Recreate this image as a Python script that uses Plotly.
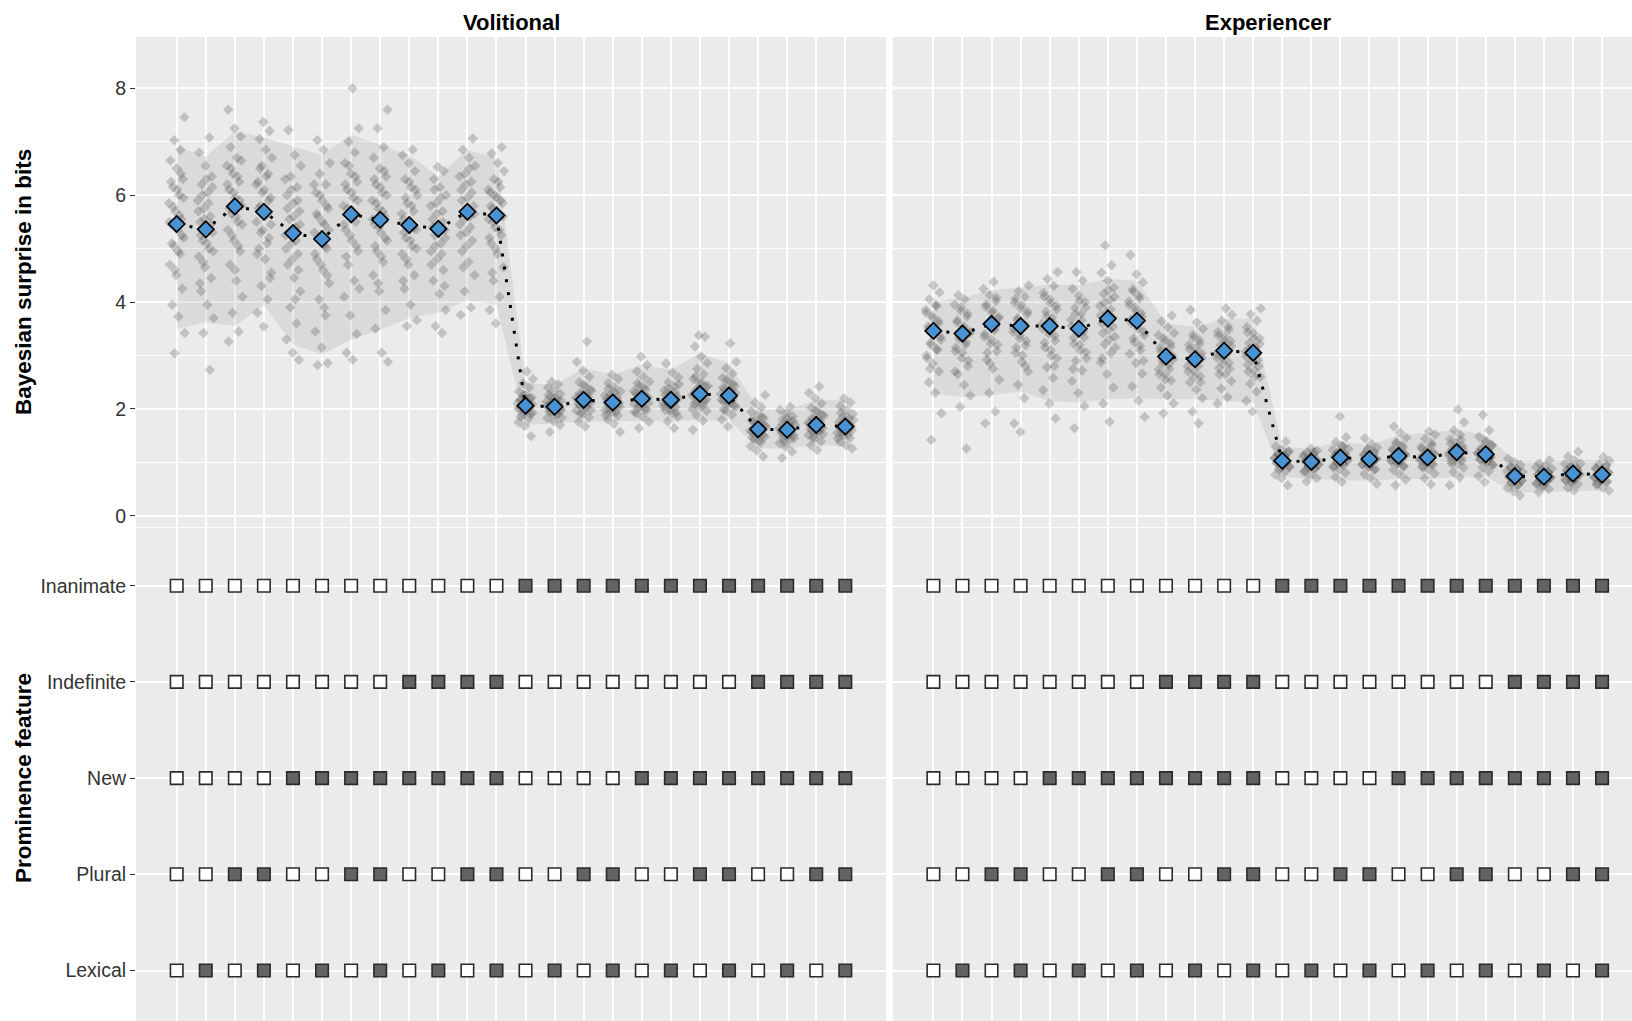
import plotly.graph_objects as go

# ---------------------------------------------------------------- data
conditions = list(range(1, 25))
feature_names = ["Lexical", "Plural", "New", "Indefinite", "Inanimate"]

# prominence feature design per condition (1 = feature present)
lexical    = [0, 1, 0, 1, 0, 1, 0, 1, 0, 1, 0, 1, 0, 1, 0, 1, 0, 1, 0, 1, 0, 1, 0, 1]
plural     = [0, 0, 1, 1, 0, 0, 1, 1, 0, 0, 1, 1, 0, 0, 1, 1, 0, 0, 1, 1, 0, 0, 1, 1]
new        = [0, 0, 0, 0, 1, 1, 1, 1, 1, 1, 1, 1, 0, 0, 0, 0, 1, 1, 1, 1, 1, 1, 1, 1]
indefinite = [0, 0, 0, 0, 0, 0, 0, 0, 1, 1, 1, 1, 0, 0, 0, 0, 0, 0, 0, 0, 1, 1, 1, 1]
inanimate  = [0, 0, 0, 0, 0, 0, 0, 0, 0, 0, 0, 0, 1, 1, 1, 1, 1, 1, 1, 1, 1, 1, 1, 1]

# mean Bayesian surprise per condition
vol_mean = [5.46, 5.36, 5.79, 5.69, 5.29, 5.18, 5.64, 5.54, 5.44, 5.37, 5.69, 5.62,
            2.06, 2.04, 2.17, 2.12, 2.19, 2.17, 2.28, 2.25, 1.62, 1.61, 1.70, 1.67]
exp_mean = [3.46, 3.41, 3.59, 3.55, 3.55, 3.50, 3.69, 3.65, 2.98, 2.93, 3.09, 3.05,
            1.03, 1.01, 1.09, 1.06, 1.12, 1.09, 1.19, 1.15, 0.74, 0.73, 0.79, 0.77]

# interval band around the means
vol_lower = [3.50, 3.62, 3.55, 3.95, 3.20, 3.02, 3.30, 3.48, 3.70, 3.80, 4.03, 3.95,
             1.70, 1.73, 1.76, 1.76, 1.78, 1.78, 1.79, 1.79, 1.26, 1.26, 1.33, 1.29]
vol_upper = [6.91, 6.72, 7.19, 7.08, 6.91, 6.75, 7.13, 6.94, 6.75, 6.35, 6.85, 6.70,
             2.48, 2.45, 2.76, 2.64, 2.82, 2.73, 3.04, 2.85, 2.01, 1.98, 2.17, 2.17]
exp_lower = [2.30, 2.22, 2.26, 2.32, 2.15, 2.12, 2.18, 2.20, 2.18, 2.18, 2.15, 2.12,
             0.73, 0.69, 0.66, 0.66, 0.69, 0.69, 0.73, 0.73, 0.44, 0.44, 0.47, 0.47]
exp_upper = [4.00, 4.08, 4.22, 4.28, 4.33, 4.32, 4.43, 4.40, 3.60, 3.54, 3.68, 3.69,
             1.29, 1.26, 1.39, 1.32, 1.51, 1.55, 1.61, 1.51, 1.04, 1.01, 1.04, 1.04]

# individual observations per condition: full spread ...
vol_obs = [
    [3.04, 3.42, 3.73, 3.95, 4.25, 4.5, 4.7, 4.9, 5.05, 5.2, 5.35, 5.45, 5.55, 5.7, 5.85, 6.0, 6.15, 6.3, 6.5, 6.65, 6.85, 7.03, 7.46],
    [2.73, 3.42, 3.7, 3.95, 4.2, 4.45, 4.65, 4.85, 5.0, 5.15, 5.3, 5.4, 5.5, 5.6, 5.75, 5.9, 6.05, 6.2, 6.35, 6.55, 6.8, 7.08],
    [3.26, 3.45, 3.8, 4.1, 4.4, 4.7, 4.95, 5.15, 5.35, 5.5, 5.65, 5.8, 5.95, 6.1, 6.25, 6.4, 6.55, 6.7, 6.9, 7.1, 7.25, 7.6],
    [3.54, 3.8, 4.05, 4.3, 4.55, 4.8, 5.0, 5.2, 5.35, 5.5, 5.65, 5.8, 5.95, 6.1, 6.25, 6.4, 6.55, 6.7, 6.85, 7.05, 7.2, 7.37],
    [2.92, 3.05, 3.3, 3.6, 3.9, 4.2, 4.45, 4.7, 4.9, 5.1, 5.25, 5.4, 5.55, 5.7, 5.85, 6.0, 6.15, 6.35, 6.55, 6.75, 7.22],
    [2.82, 2.86, 3.15, 3.45, 3.75, 4.05, 4.35, 4.6, 4.8, 5.0, 5.15, 5.3, 5.45, 5.6, 5.75, 5.9, 6.05, 6.2, 6.4, 6.6, 6.85, 7.03],
    [2.92, 3.05, 3.4, 3.75, 4.1, 4.4, 4.7, 4.95, 5.15, 5.35, 5.5, 5.65, 5.8, 5.95, 6.1, 6.25, 6.4, 6.6, 6.8, 7.0, 7.25, 8.0],
    [2.88, 3.05, 3.5, 3.85, 4.2, 4.5, 4.75, 4.95, 5.15, 5.3, 5.45, 5.6, 5.75, 5.9, 6.05, 6.2, 6.35, 6.5, 6.7, 6.9, 7.25, 7.6],
    [3.55, 3.66, 3.95, 4.25, 4.5, 4.7, 4.9, 5.05, 5.2, 5.35, 5.45, 5.55, 5.7, 5.85, 6.0, 6.15, 6.3, 6.45, 6.6, 6.75, 6.85],
    [3.42, 3.55, 3.85, 4.15, 4.4, 4.6, 4.8, 4.95, 5.1, 5.25, 5.35, 5.45, 5.55, 5.7, 5.85, 6.0, 6.15, 6.3, 6.45, 6.53],
    [3.76, 3.9, 4.2, 4.5, 4.75, 4.95, 5.15, 5.3, 5.45, 5.6, 5.7, 5.8, 5.95, 6.1, 6.25, 6.4, 6.55, 6.7, 6.85, 7.06],
    [3.6, 3.85, 4.1, 4.4, 4.65, 4.9, 5.1, 5.25, 5.4, 5.55, 5.65, 5.75, 5.85, 5.95, 6.05, 6.15, 6.3, 6.45, 6.6, 6.78, 6.9],
    [1.49, 1.68, 1.75, 1.82, 1.88, 1.93, 1.97, 2.01, 2.04, 2.07, 2.1, 2.13, 2.17, 2.21, 2.26, 2.32, 2.4, 2.48, 2.56, 2.7],
    [1.57, 1.7, 1.77, 1.83, 1.89, 1.94, 1.98, 2.01, 2.04, 2.07, 2.1, 2.14, 2.18, 2.23, 2.28, 2.34, 2.4, 2.46, 2.51],
    [1.67, 1.76, 1.84, 1.91, 1.97, 2.02, 2.07, 2.11, 2.15, 2.19, 2.23, 2.28, 2.34, 2.41, 2.5, 2.6, 2.72, 2.88, 3.26],
    [1.57, 1.72, 1.8, 1.87, 1.93, 1.98, 2.03, 2.07, 2.11, 2.14, 2.18, 2.22, 2.27, 2.33, 2.4, 2.48, 2.56, 2.64],
    [1.64, 1.76, 1.85, 1.92, 1.98, 2.04, 2.09, 2.13, 2.17, 2.21, 2.25, 2.3, 2.36, 2.43, 2.51, 2.6, 2.7, 2.82, 2.98],
    [1.64, 1.77, 1.85, 1.92, 1.98, 2.03, 2.08, 2.12, 2.16, 2.2, 2.24, 2.29, 2.35, 2.42, 2.5, 2.59, 2.68, 2.85],
    [1.61, 1.78, 1.88, 1.96, 2.03, 2.09, 2.15, 2.2, 2.25, 2.3, 2.35, 2.41, 2.48, 2.56, 2.65, 2.75, 2.86, 2.98, 3.17, 3.35, 3.38],
    [1.67, 1.8, 1.89, 1.97, 2.04, 2.1, 2.15, 2.2, 2.24, 2.28, 2.32, 2.37, 2.43, 2.5, 2.58, 2.66, 2.76, 2.88, 3.23],
    [1.11, 1.22, 1.3, 1.37, 1.43, 1.48, 1.52, 1.56, 1.6, 1.63, 1.67, 1.71, 1.76, 1.82, 1.88, 1.95, 2.03, 2.12, 2.26],
    [1.08, 1.2, 1.29, 1.36, 1.42, 1.47, 1.51, 1.55, 1.59, 1.62, 1.66, 1.7, 1.75, 1.8, 1.86, 1.92, 1.98, 2.04],
    [1.23, 1.32, 1.39, 1.45, 1.51, 1.56, 1.6, 1.64, 1.68, 1.72, 1.76, 1.81, 1.87, 1.94, 2.02, 2.1, 2.2, 2.3, 2.42],
    [1.26, 1.32, 1.39, 1.45, 1.5, 1.55, 1.59, 1.63, 1.67, 1.71, 1.75, 1.8, 1.85, 1.91, 1.98, 2.05, 2.12, 2.2],
]
# ... and the denser bulk of each condition
vol_obs_core = [
    [4.95, 5.1, 5.25, 5.4, 5.5, 5.62, 5.78, 5.95, 6.1, 6.25, 6.4, 4.6],
    [4.75, 4.95, 5.1, 5.25, 5.45, 5.55, 5.7, 5.85, 6.0, 6.15, 6.3, 4.35],
    [5.05, 5.25, 5.45, 5.6, 5.75, 5.9, 6.05, 6.2, 6.35, 6.5, 6.65, 4.6],
    [4.9, 5.1, 5.3, 5.45, 5.6, 5.75, 5.9, 6.05, 6.2, 6.35, 6.5, 4.45],
    [4.6, 4.8, 5.0, 5.15, 5.3, 5.45, 5.6, 5.75, 5.9, 6.1, 6.3, 4.05],
    [4.5, 4.7, 4.9, 5.05, 5.2, 5.35, 5.5, 5.65, 5.8, 6.0, 6.2, 3.9],
    [4.85, 5.05, 5.25, 5.45, 5.6, 5.75, 5.9, 6.05, 6.2, 6.35, 6.55, 4.25],
    [4.85, 5.05, 5.2, 5.4, 5.55, 5.7, 5.85, 6.0, 6.15, 6.3, 6.45, 4.35],
    [4.8, 5.0, 5.15, 5.3, 5.4, 5.5, 5.65, 5.8, 5.95, 6.1, 6.25, 4.4],
    [4.7, 4.9, 5.05, 5.2, 5.3, 5.4, 5.5, 5.65, 5.8, 5.95, 6.1, 4.3],
    [5.05, 5.25, 5.4, 5.55, 5.65, 5.75, 5.9, 6.05, 6.2, 6.35, 6.5, 4.65],
    [5.0, 5.2, 5.35, 5.5, 5.6, 5.7, 5.8, 5.9, 6.0, 6.1, 6.25, 4.55],
    [1.85, 1.9, 1.95, 2.0, 2.03, 2.06, 2.09, 2.12, 2.16, 2.2, 2.25],
    [1.84, 1.9, 1.95, 1.99, 2.02, 2.05, 2.08, 2.11, 2.15, 2.2, 2.26],
    [1.92, 1.98, 2.04, 2.09, 2.13, 2.17, 2.21, 2.25, 2.3, 2.36, 2.45],
    [1.88, 1.94, 1.99, 2.04, 2.08, 2.12, 2.16, 2.2, 2.25, 2.31, 2.38],
    [1.94, 2.0, 2.06, 2.11, 2.15, 2.19, 2.23, 2.28, 2.33, 2.4, 2.48],
    [1.93, 1.99, 2.05, 2.1, 2.14, 2.18, 2.22, 2.26, 2.31, 2.38, 2.46],
    [2.0, 2.07, 2.13, 2.18, 2.23, 2.27, 2.32, 2.37, 2.43, 2.5, 2.6],
    [1.99, 2.06, 2.12, 2.17, 2.21, 2.25, 2.3, 2.35, 2.4, 2.47, 2.55],
    [1.4, 1.46, 1.51, 1.55, 1.59, 1.62, 1.65, 1.69, 1.73, 1.78, 1.85],
    [1.39, 1.45, 1.5, 1.54, 1.58, 1.61, 1.64, 1.68, 1.72, 1.77, 1.83],
    [1.47, 1.53, 1.58, 1.62, 1.66, 1.7, 1.74, 1.78, 1.83, 1.89, 1.97],
    [1.45, 1.51, 1.56, 1.6, 1.64, 1.67, 1.7, 1.74, 1.79, 1.85, 1.93],
]
exp_obs = [
    [1.42, 1.92, 2.3, 2.5, 2.7, 2.85, 3.0, 3.12, 3.24, 3.35, 3.45, 3.55, 3.65, 3.75, 3.85, 3.95, 4.05, 4.18, 4.31],
    [1.26, 2.04, 2.25, 2.45, 2.65, 2.8, 2.95, 3.08, 3.2, 3.31, 3.41, 3.51, 3.62, 3.73, 3.84, 3.95, 4.05, 4.13],
    [1.73, 1.95, 2.3, 2.55, 2.75, 2.92, 3.08, 3.22, 3.35, 3.47, 3.58, 3.69, 3.8, 3.91, 4.02, 4.13, 4.25, 4.38],
    [1.57, 1.73, 2.2, 2.45, 2.7, 2.88, 3.05, 3.19, 3.32, 3.44, 3.55, 3.66, 3.77, 3.88, 3.99, 4.1, 4.2, 4.31],
    [1.82, 2.1, 2.35, 2.58, 2.78, 2.95, 3.1, 3.24, 3.37, 3.49, 3.6, 3.71, 3.82, 3.93, 4.05, 4.17, 4.3, 4.43, 4.56],
    [1.64, 2.05, 2.3, 2.52, 2.72, 2.9, 3.06, 3.2, 3.33, 3.45, 3.56, 3.67, 3.78, 3.89, 4.0, 4.12, 4.25, 4.4, 4.56],
    [1.76, 2.1, 2.4, 2.65, 2.87, 3.05, 3.21, 3.35, 3.48, 3.6, 3.71, 3.82, 3.93, 4.04, 4.15, 4.27, 4.4, 4.55, 4.69, 5.06],
    [1.85, 2.15, 2.42, 2.66, 2.86, 3.03, 3.18, 3.32, 3.45, 3.57, 3.68, 3.79, 3.9, 4.01, 4.12, 4.24, 4.37, 4.52, 4.88],
    [1.92, 2.1, 2.25, 2.4, 2.53, 2.64, 2.74, 2.83, 2.91, 2.99, 3.07, 3.15, 3.23, 3.32, 3.42, 3.53, 3.64, 3.75],
    [1.73, 1.95, 2.2, 2.36, 2.5, 2.61, 2.71, 2.8, 2.88, 2.96, 3.04, 3.12, 3.2, 3.29, 3.39, 3.5, 3.62, 3.85],
    [2.1, 2.22, 2.38, 2.52, 2.65, 2.76, 2.86, 2.95, 3.03, 3.11, 3.19, 3.27, 3.35, 3.44, 3.54, 3.65, 3.76, 3.88],
    [1.95, 2.15, 2.32, 2.47, 2.6, 2.72, 2.82, 2.91, 2.99, 3.07, 3.15, 3.23, 3.32, 3.42, 3.53, 3.65, 3.77, 3.88],
    [0.57, 0.7, 0.77, 0.83, 0.88, 0.92, 0.96, 0.99, 1.02, 1.05, 1.08, 1.11, 1.15, 1.19, 1.24, 1.3, 1.39],
    [0.64, 0.7, 0.76, 0.82, 0.87, 0.91, 0.95, 0.98, 1.01, 1.04, 1.07, 1.1, 1.14, 1.18, 1.22, 1.26],
    [0.63, 0.72, 0.8, 0.87, 0.93, 0.98, 1.02, 1.06, 1.09, 1.12, 1.16, 1.2, 1.25, 1.31, 1.38, 1.47, 1.86],
    [0.6, 0.7, 0.78, 0.85, 0.91, 0.96, 1.0, 1.03, 1.06, 1.09, 1.13, 1.17, 1.22, 1.28, 1.35, 1.45],
    [0.57, 0.68, 0.78, 0.86, 0.93, 0.99, 1.04, 1.08, 1.12, 1.16, 1.2, 1.25, 1.31, 1.38, 1.46, 1.56, 1.67],
    [0.59, 0.7, 0.79, 0.87, 0.93, 0.98, 1.03, 1.07, 1.1, 1.14, 1.18, 1.23, 1.29, 1.36, 1.44, 1.52, 1.58],
    [0.57, 0.72, 0.82, 0.9, 0.97, 1.03, 1.08, 1.13, 1.17, 1.21, 1.25, 1.3, 1.36, 1.43, 1.51, 1.6, 1.75, 1.99],
    [0.63, 0.74, 0.83, 0.9, 0.96, 1.01, 1.06, 1.1, 1.14, 1.18, 1.22, 1.27, 1.33, 1.4, 1.48, 1.6, 1.89],
    [0.38, 0.46, 0.52, 0.57, 0.62, 0.66, 0.7, 0.73, 0.76, 0.79, 0.82, 0.86, 0.9, 0.95, 1.01, 1.07],
    [0.44, 0.5, 0.55, 0.6, 0.64, 0.68, 0.71, 0.74, 0.77, 0.8, 0.84, 0.88, 0.93, 0.98, 1.04],
    [0.47, 0.53, 0.59, 0.64, 0.68, 0.72, 0.76, 0.79, 0.82, 0.85, 0.89, 0.93, 0.98, 1.04, 1.11, 1.2],
    [0.47, 0.53, 0.58, 0.63, 0.67, 0.71, 0.75, 0.78, 0.81, 0.84, 0.88, 0.92, 0.97, 1.03, 1.1],
]
exp_obs_core = [
    [2.95, 3.1, 3.2, 3.3, 3.4, 3.5, 3.6, 3.7, 3.8, 3.92, 2.75],
    [2.9, 3.05, 3.15, 3.25, 3.35, 3.45, 3.55, 3.66, 3.78, 3.9, 2.7],
    [3.05, 3.2, 3.3, 3.4, 3.52, 3.62, 3.72, 3.84, 3.96, 4.08, 2.85],
    [3.0, 3.15, 3.27, 3.38, 3.5, 3.6, 3.7, 3.82, 3.94, 4.06, 2.8],
    [3.0, 3.15, 3.28, 3.4, 3.5, 3.62, 3.74, 3.86, 3.98, 4.1, 2.8],
    [2.95, 3.1, 3.22, 3.34, 3.45, 3.55, 3.66, 3.78, 3.9, 4.02, 2.75],
    [3.15, 3.3, 3.42, 3.54, 3.65, 3.75, 3.86, 3.98, 4.1, 4.22, 2.95],
    [3.1, 3.25, 3.38, 3.5, 3.6, 3.72, 3.83, 3.95, 4.07, 4.2, 2.9],
    [2.55, 2.65, 2.75, 2.85, 2.93, 3.0, 3.08, 3.17, 3.27, 3.38],
    [2.5, 2.6, 2.7, 2.8, 2.88, 2.95, 3.03, 3.12, 3.22, 3.33],
    [2.65, 2.75, 2.85, 2.95, 3.03, 3.1, 3.18, 3.27, 3.37, 3.48],
    [2.6, 2.7, 2.8, 2.9, 2.98, 3.05, 3.13, 3.22, 3.32, 3.44],
    [0.86, 0.91, 0.95, 0.99, 1.02, 1.05, 1.08, 1.12, 1.16, 1.21],
    [0.84, 0.89, 0.93, 0.97, 1.0, 1.03, 1.06, 1.1, 1.14, 1.19],
    [0.9, 0.95, 0.99, 1.03, 1.07, 1.1, 1.14, 1.18, 1.23, 1.29],
    [0.88, 0.93, 0.97, 1.01, 1.04, 1.07, 1.11, 1.15, 1.2, 1.26],
    [0.92, 0.97, 1.02, 1.06, 1.1, 1.13, 1.17, 1.22, 1.28, 1.35],
    [0.9, 0.95, 1.0, 1.04, 1.07, 1.1, 1.14, 1.19, 1.25, 1.32],
    [0.98, 1.03, 1.08, 1.12, 1.16, 1.2, 1.24, 1.29, 1.35, 1.42],
    [0.95, 1.0, 1.05, 1.09, 1.13, 1.16, 1.2, 1.25, 1.31, 1.38],
    [0.58, 0.62, 0.66, 0.7, 0.73, 0.76, 0.79, 0.83, 0.87, 0.92],
    [0.57, 0.61, 0.65, 0.69, 0.72, 0.75, 0.78, 0.82, 0.86, 0.91],
    [0.62, 0.66, 0.7, 0.74, 0.77, 0.8, 0.83, 0.87, 0.91, 0.97],
    [0.6, 0.64, 0.68, 0.72, 0.75, 0.78, 0.81, 0.85, 0.89, 0.95],
]

# ---------------------------------------------------------------- styling
W, H = 1632, 1021
FONT = "Liberation Sans, Arial, sans-serif"
PANEL_BG = "#EBEBEB"
TICK_COL = "#333333"
TEXT_COL = "#333333"
MEAN_FILL = "#4A93D2"
OBS_COL = "rgba(60,60,60,0.24)"
BAND_COL = "rgba(150,150,150,0.2)"
SQ_ON = "#636363"
SQ_OFF = "#FFFFFF"


def px_x(p):
    return p / W


def px_y(p):
    return 1 - p / H


left_dom = [px_x(136), px_x(886)]
right_dom = [px_x(892.7), 1.0]
top_dom = [px_y(527), px_y(37)]
bot_dom = [0.0, px_y(528)]

left_range = [-0.4, 25.4]
right_range = [-0.4, 25.03]
top_range = [-0.21, 8.96]
bot_range = [0.475, 5.6]


def jitter(i, c):
    # deterministic horizontal spread of the observations around a condition
    return (((i * 0.6180339887 + c * 0.3719) % 1.0) - 0.5) * 0.56


fig = go.Figure()

panels = [
    ("x", "y", vol_mean, vol_lower, vol_upper,
     [a + b for a, b in zip(vol_obs, vol_obs_core)]),
    ("x2", "y2", exp_mean, exp_lower, exp_upper,
     [a + b for a, b in zip(exp_obs, exp_obs_core)]),
]

for xa, ya, means, lower, upper, obs in panels:
    # interval band
    fig.add_trace(go.Scatter(
        x=conditions + conditions[::-1],
        y=upper + lower[::-1],
        fill="toself", fillcolor=BAND_COL, line=dict(width=0),
        mode="lines", hoverinfo="skip", showlegend=False,
        xaxis=xa, yaxis=ya,
    ))
    # jittered observations
    ox, oy = [], []
    for c, vals in zip(conditions, obs):
        for i, v in enumerate(vals):
            ox.append(c + jitter(i, c))
            oy.append(v)
    fig.add_trace(go.Scatter(
        x=ox, y=oy, mode="markers",
        marker=dict(symbol="diamond", size=8, color=OBS_COL, line=dict(width=0)),
        hoverinfo="skip", showlegend=False, xaxis=xa, yaxis=ya,
    ))
    # dotted connector through the means
    fig.add_trace(go.Scatter(
        x=conditions, y=means, mode="lines",
        line=dict(color="black", width=3, dash="3px,10px"),
        hoverinfo="skip", showlegend=False, xaxis=xa, yaxis=ya,
    ))
    # condition means
    fig.add_trace(go.Scatter(
        x=conditions, y=means, mode="markers",
        marker=dict(symbol="diamond", size=12.5, color=MEAN_FILL,
                    line=dict(color="black", width=1.7)),
        showlegend=False, xaxis=xa, yaxis=ya,
    ))

# feature design grid
design = [lexical, plural, new, indefinite, inanimate]
for xa, ya in [("x3", "y3"), ("x4", "y4")]:
    gx, gy, gc = [], [], []
    for row, flags in enumerate(design, start=1):
        for c, f in zip(conditions, flags):
            gx.append(c)
            gy.append(row)
            gc.append(SQ_ON if f else SQ_OFF)
    fig.add_trace(go.Scatter(
        x=gx, y=gy, mode="markers",
        marker=dict(symbol="square", size=12.5, color=gc,
                    line=dict(color="#2A2A2A", width=1.6)),
        showlegend=False, xaxis=xa, yaxis=ya,
    ))

grid_x = dict(showgrid=True, gridcolor="white", gridwidth=1.6, zeroline=False,
              tickvals=conditions, showticklabels=False, ticks="", showline=False)
tick_font = dict(family=FONT, size=19.5, color=TEXT_COL)

fig.update_layout(
    width=W, height=H,
    margin=dict(l=0, r=0, t=0, b=0),
    paper_bgcolor="white", plot_bgcolor=PANEL_BG,
    showlegend=False,
    xaxis=dict(domain=left_dom, range=left_range, anchor="y", **grid_x),
    xaxis2=dict(domain=right_dom, range=right_range, anchor="y2", **grid_x),
    xaxis3=dict(domain=left_dom, range=left_range, anchor="y3", **grid_x),
    xaxis4=dict(domain=right_dom, range=right_range, anchor="y4", **grid_x),
    yaxis=dict(domain=top_dom, range=top_range, anchor="x",
               tickvals=[0, 2, 4, 6, 8], ticks="outside", ticklen=5,
               tickwidth=1.3, tickcolor=TICK_COL, tickfont=tick_font,
               showgrid=True, gridcolor="white", gridwidth=1.6, zeroline=False,
               minor=dict(tickvals=[1, 3, 5, 7], showgrid=True,
                          gridcolor="white", gridwidth=0.8, ticks="")),
    yaxis2=dict(domain=top_dom, range=top_range, anchor="x2",
                tickvals=[0, 2, 4, 6, 8], showticklabels=False, ticks="",
                showgrid=True, gridcolor="white", gridwidth=1.6, zeroline=False,
                minor=dict(tickvals=[1, 3, 5, 7], showgrid=True,
                           gridcolor="white", gridwidth=0.8, ticks="")),
    yaxis3=dict(domain=bot_dom, range=bot_range, anchor="x3",
                tickvals=[1, 2, 3, 4, 5], ticktext=feature_names,
                ticks="outside", ticklen=5, tickwidth=1.3, tickcolor=TICK_COL,
                tickfont=tick_font, showgrid=True, gridcolor="white",
                gridwidth=1.6, zeroline=False),
    yaxis4=dict(domain=bot_dom, range=bot_range, anchor="x4",
                tickvals=[1, 2, 3, 4, 5], showticklabels=False, ticks="",
                showgrid=True, gridcolor="white", gridwidth=1.6, zeroline=False),
    annotations=[
        dict(text="<b>Volitional</b>", x=px_x(511), y=px_y(22), xref="paper",
             yref="paper", showarrow=False, xanchor="center", yanchor="middle",
             font=dict(family=FONT, size=22, color="black")),
        dict(text="<b>Experiencer</b>", x=px_x(1267.5), y=px_y(22), xref="paper",
             yref="paper", showarrow=False, xanchor="center", yanchor="middle",
             font=dict(family=FONT, size=22, color="black")),
        dict(text="<b>Bayesian surprise in bits</b>", x=px_x(23), y=px_y(282),
             xref="paper", yref="paper", showarrow=False, textangle=-90,
             xanchor="center", yanchor="middle",
             font=dict(family=FONT, size=22.5, color="black")),
        dict(text="<b>Prominence feature</b>", x=px_x(23), y=px_y(778),
             xref="paper", yref="paper", showarrow=False, textangle=-90,
             xanchor="center", yanchor="middle",
             font=dict(family=FONT, size=22.5, color="black")),
    ],
)

fig.write_html("out.html")
